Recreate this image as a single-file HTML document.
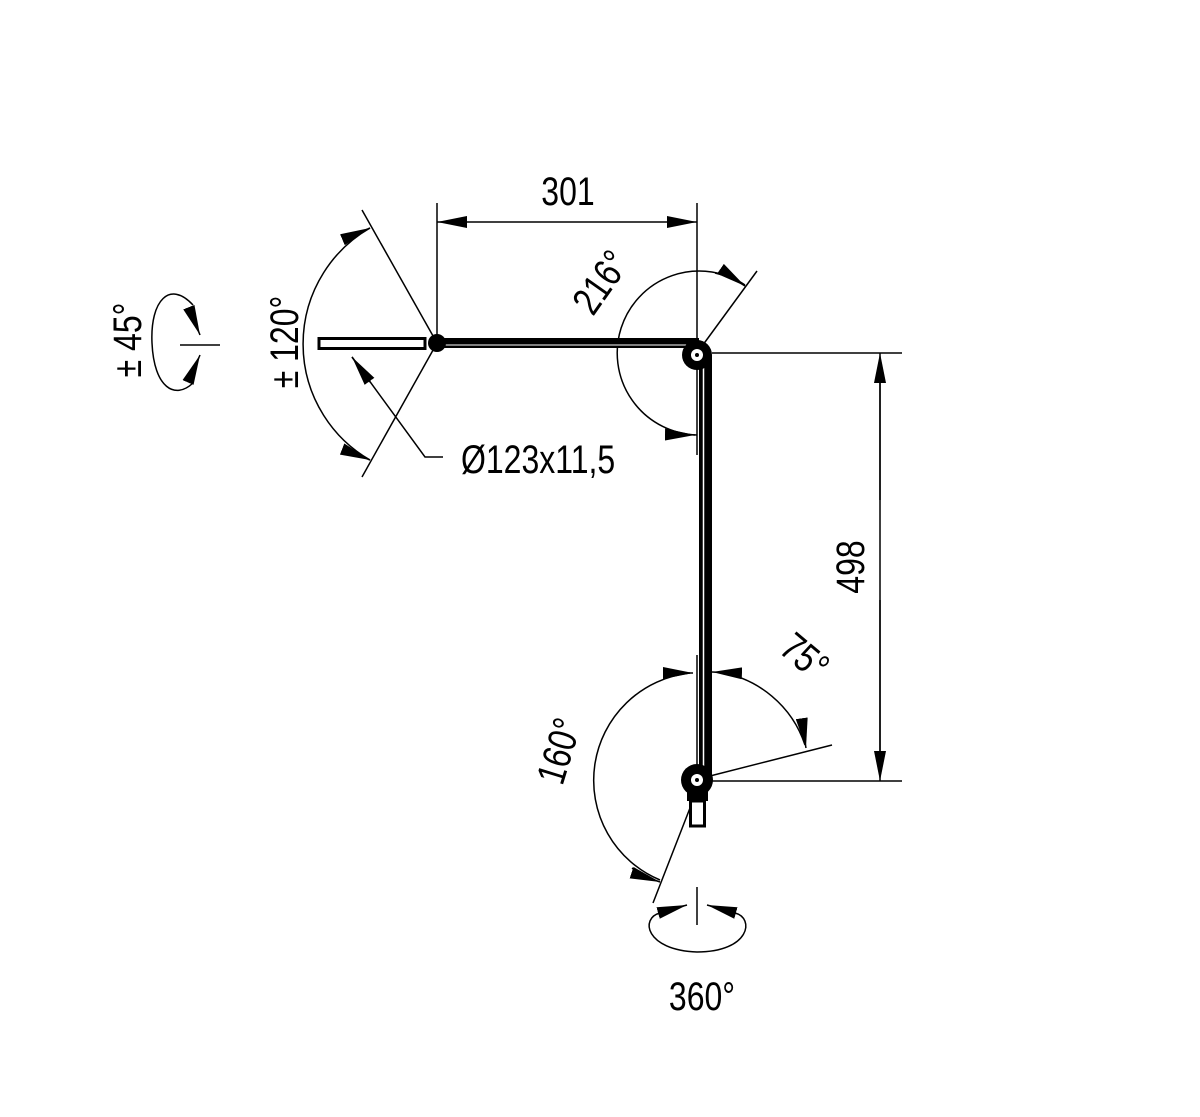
<!DOCTYPE html>
<html><head><meta charset="utf-8"><style>html,body{margin:0;padding:0;background:#fff}svg{display:block}
text{font-family:"Liberation Sans",sans-serif;fill:#000}</style></head><body>
<svg width="1200" height="1117" viewBox="0 0 1200 1117" xmlns="http://www.w3.org/2000/svg">
<defs><marker id="a" viewBox="0 0 10 4" refX="10" refY="2" markerWidth="30" markerHeight="12" markerUnits="userSpaceOnUse" orient="auto"><path d="M0,0L10,2L0,4z"/></marker></defs>
<g fill="none" stroke="#000" stroke-width="1.5">
<line x1="437" y1="203" x2="437" y2="340"/>
<line x1="697" y1="203" x2="697" y2="455"/>
<line x1="467" y1="222" x2="437" y2="222" marker-end="url(#a)"/>
<line x1="667" y1="222" x2="697" y2="222" marker-end="url(#a)"/>
<line x1="467" y1="222" x2="667" y2="222"/>
<line x1="712" y1="353" x2="902" y2="353"/>
<line x1="712" y1="781" x2="902" y2="781"/>
<line x1="880" y1="383" x2="880" y2="751"/>
<line x1="880" y1="500" x2="880" y2="353" marker-end="url(#a)"/>
<line x1="880" y1="600" x2="880" y2="781" marker-end="url(#a)"/>
<line x1="697" y1="353" x2="757" y2="271"/>
<path d="M745,285 A82,82 0 1 0 697,435"/>
<path d="M715,273 A82,82 0 0 1 745,286" marker-end="url(#a)"/>
<path d="M668,430 A82,82 0 0 0 695,435" marker-end="url(#a)"/>
<line x1="437" y1="343" x2="362" y2="210"/>
<line x1="437" y1="343" x2="362" y2="477"/>
<path d="M370,228 A134,134 0 0 0 370,460"/>
<path d="M345,242 A134,134 0 0 1 370,228" marker-end="url(#a)"/>
<path d="M345,447 A134,134 0 0 0 370,460" marker-end="url(#a)"/>
<polyline points="443,457 425,457 352,357" />
<line x1="370" y1="382" x2="352" y2="357" marker-end="url(#a)"/>
<line x1="180" y1="345" x2="220" y2="345"/>
<path d="M193,305 C170,280 150,300 152,343 C154,388 175,400 193,383"/>
<line x1="190" y1="310" x2="200" y2="335" marker-end="url(#a)"/>
<line x1="190" y1="378" x2="200" y2="355" marker-end="url(#a)"/>
<line x1="710" y1="776" x2="832" y2="745"/>
<line x1="697" y1="655" x2="697" y2="780"/>
<path d="M718,672 A108,108 0 0 1 805,745"/>
<line x1="735" y1="673" x2="712" y2="672" marker-end="url(#a)"/>
<path d="M798,720 A108,108 0 0 1 806,748" marker-end="url(#a)"/>
<path d="M690,673 A108,108 0 0 0 660,880"/>
<line x1="668" y1="673" x2="693" y2="673" marker-end="url(#a)"/>
<path d="M632,868 A108,108 0 0 0 660,882" marker-end="url(#a)"/>
<line x1="690" y1="808" x2="653" y2="903"/>
<line x1="697" y1="887" x2="697" y2="925"/>
<path d="M660,913 C640,918 645,950 697,952 C750,952 755,918 735,913"/>
<line x1="658" y1="913" x2="687" y2="905" marker-end="url(#a)"/>
<line x1="736" y1="913" x2="707" y2="905" marker-end="url(#a)"/>
</g>
<rect x="319" y="338.5" width="106" height="10" fill="#fff" stroke="#000" stroke-width="3"/>
<rect x="437" y="338" width="262" height="10" fill="#000"/>
<line x1="440" y1="345" x2="690" y2="345" stroke="#fff" stroke-width="1"/>
<circle cx="437" cy="343" r="9" fill="#000"/>
<rect x="699" y="355" width="13" height="425" fill="#000"/>
<line x1="703.5" y1="365" x2="703.5" y2="770" stroke="#fff" stroke-width="1.5"/>
<circle cx="697" cy="355" r="15" fill="#000"/>
<circle cx="697" cy="355" r="6" fill="#fff"/><circle cx="697" cy="355" r="2" fill="#000"/>
<rect x="687" y="785" width="21" height="16" fill="#000"/>
<rect x="690.5" y="801" width="14" height="25" fill="#fff" stroke="#000" stroke-width="3"/>
<circle cx="697" cy="780" r="16" fill="#000"/>
<circle cx="697" cy="780" r="6" fill="#fff"/><circle cx="697" cy="780" r="2" fill="#000"/>
<g font-size="40">
<text x="568" y="205" text-anchor="middle" transform="translate(568,0) scale(0.8,1) translate(-568,0)">301</text>
<text transform="translate(864,567) rotate(-90) scale(0.8,1)" text-anchor="middle">498</text>
<text transform="translate(612,290) rotate(-55) scale(0.8,1)" text-anchor="middle">216°</text>
<text transform="translate(298,342) rotate(-90) scale(0.8,1)" text-anchor="middle">± 120°</text>
<text transform="translate(141,340) rotate(-90) scale(0.8,1)" text-anchor="middle">± 45°</text>
<text transform="translate(461,473) scale(0.8,1)">Ø123x11,5</text>
<text transform="translate(796,667) rotate(40) scale(0.8,1)" text-anchor="middle">75°</text>
<text transform="translate(572,755) rotate(-73) scale(0.8,1)" text-anchor="middle">160°</text>
<text transform="translate(702,1010) scale(0.8,1)" text-anchor="middle">360°</text>
</g>
</svg>
</body></html>
